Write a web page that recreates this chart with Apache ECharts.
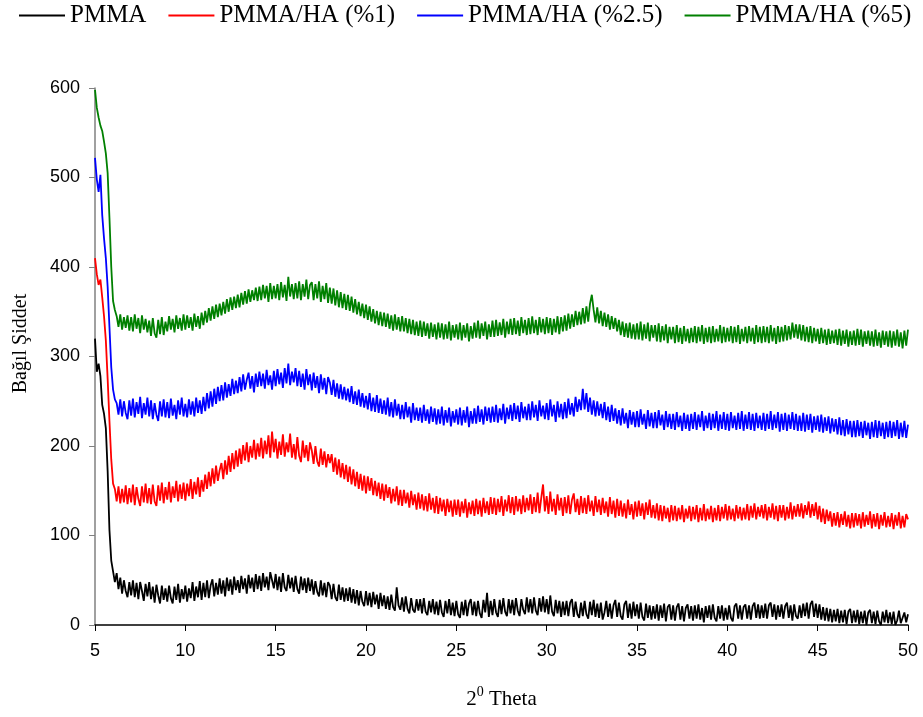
<!DOCTYPE html>
<html>
<head>
<meta charset="utf-8">
<script src="https://cdn.jsdelivr.net/npm/echarts@6/dist/echarts.min.js"></script>
<style>
  html, body { margin: 0; padding: 0; background: #ffffff; }
  #chart { width: 923px; height: 717px; }
</style>
</head>
<body>
<div id="chart"></div>
<script>
// XRD scans, 2θ from 5° to 50° in 0.1° steps
const seriesNames = ['PMMA', 'PMMA/HA (%1)', 'PMMA/HA (%2.5)', 'PMMA/HA (%5)'];
const seriesColors = ['#000000', '#ff0000', '#0000ff', '#008000'];
const thetaStart = 5;
const thetaStep = 0.1;
const xTickValues = [5, 10, 15, 20, 25, 30, 35, 40, 45, 50];
const yTickValues = [0, 100, 200, 300, 400, 500, 600];

const pmma = [
  320, 283, 292, 278, 246, 236, 220, 172, 106, 72,
  60, 48, 58, 40, 53, 35, 50, 38, 31, 48,
  33, 50, 31, 47, 29, 48, 38, 27, 46, 32,
  48, 29, 43, 25, 45, 33, 24, 44, 28, 41,
  26, 44, 30, 24, 43, 28, 46, 25, 40, 29,
  44, 26, 41, 30, 48, 27, 43, 31, 49, 28,
  47, 31, 50, 30, 44, 51, 32, 47, 34, 52,
  35, 50, 32, 53, 38, 51, 34, 54, 39, 50,
  36, 55, 40, 52, 35, 56, 41, 53, 37, 57,
  40, 55, 38, 58, 42, 54, 39, 59, 61, 41,
  57, 39, 54, 37, 58, 42, 38, 56, 41, 53,
  37, 55, 40, 35, 54, 39, 52, 36, 53, 38,
  51, 34, 49, 37, 32, 50, 33, 47, 31, 48,
  44, 29, 46, 31, 27, 45, 28, 42, 26, 41,
  27, 42, 25, 40, 24, 39, 22, 38, 26, 21,
  38, 22, 36, 20, 37, 23, 34, 18, 36, 21,
  33, 18, 32, 17, 34, 20, 16, 42, 22, 17,
  31, 15, 32, 18, 13, 30, 17, 14, 29, 16,
  29, 13, 30, 15, 11, 27, 14, 29, 12, 26,
  11, 28, 14, 9, 27, 13, 29, 11, 25, 10,
  27, 12, 8, 26, 11, 28, 10, 24, 29, 11,
  26, 10, 27, 13, 8, 28, 14, 36, 9, 27,
  11, 29, 14, 9, 28, 12, 30, 15, 10, 29,
  13, 28, 11, 30, 16, 10, 29, 17, 12, 31,
  14, 29, 13, 31, 16, 11, 30, 15, 32, 14,
  29, 12, 33, 15, 10, 28, 13, 27, 9, 26,
  11, 27, 10, 25, 29, 9, 26, 12, 8, 25,
  10, 27, 12, 7, 26, 11, 28, 9, 24, 8,
  25, 6, 14, 27, 9, 24, 7, 22, 28, 9,
  25, 10, 6, 23, 27, 8, 24, 7, 26, 10,
  23, 7, 25, 9, 5, 24, 8, 22, 6, 21,
  7, 23, 5, 22, 8, 24, 4, 20, 23, 6,
  22, 5, 20, 24, 6, 21, 4, 19, 23, 7,
  21, 5, 22, 7, 23, 6, 19, 3, 21, 8,
  22, 6, 23, 8, 4, 21, 7, 22, 5, 19,
  6, 22, 8, 4, 21, 24, 7, 22, 6, 20,
  23, 7, 22, 6, 21, 25, 8, 23, 7, 22,
  8, 24, 7, 22, 25, 9, 23, 6, 22, 9,
  23, 7, 21, 25, 8, 22, 5, 23, 10, 7,
  22, 8, 24, 10, 25, 7, 23, 27, 9, 24,
  8, 23, 6, 20, 5, 19, 4, 18, 3, 17,
  4, 18, 2, 16, 3, 17, 1, 15, 18, 2,
  16, 3, 17, 1, 15, 2, 16, 0, 14, 17,
  2, 15, 1, 16, 4, 0, 15, 3, 17, 2,
  14, 1, 15, 0, 5, 16, 2, 1, 14, 3,
  12
];

const pmmaHa1 = [
  410, 392, 380, 386, 366, 345, 318, 275, 228, 185,
  158, 152, 138, 155, 136, 152, 137, 156, 135, 153,
  137, 157, 134, 154, 141, 133, 155, 137, 158, 136,
  153, 135, 157, 138, 133, 156, 139, 159, 136, 154,
  140, 160, 137, 155, 142, 161, 138, 157, 141, 159,
  139, 158, 144, 163, 141, 160, 146, 165, 143, 162,
  149, 168, 152, 171, 155, 175, 158, 178, 161, 173,
  181, 163, 184, 168, 189, 171, 192, 174, 195, 177,
  197, 180, 201, 184, 204, 182, 200, 187, 207, 185,
  203, 188, 209, 186, 206, 191, 212, 187, 216, 193,
  208, 186, 205, 190, 213, 188, 204, 193, 214, 187,
  202, 185, 210, 189, 182, 206, 187, 201, 183, 204,
  195, 180, 200, 183, 177, 197, 179, 194, 176, 191,
  181, 191, 171, 187, 168, 185, 165, 181, 163, 179,
  160, 177, 157, 174, 155, 171, 152, 169, 150, 167,
  147, 166, 150, 164, 145, 161, 144, 159, 141, 158,
  139, 157, 142, 154, 136, 152, 138, 155, 134, 151,
  133, 151, 136, 148, 131, 150, 134, 146, 129, 148,
  130, 146, 128, 144, 127, 147, 129, 142, 125, 144,
  124, 142, 127, 140, 122, 141, 126, 139, 121, 140,
  123, 140, 121, 138, 125, 141, 120, 137, 124, 139,
  122, 141, 124, 139, 121, 142, 125, 138, 123, 143,
  124, 142, 123, 141, 126, 144, 122, 140, 127, 145,
  125, 143, 123, 144, 127, 141, 124, 145, 126, 142,
  128, 146, 124, 143, 126, 148, 125, 142, 157, 127,
  144, 124, 149, 127, 141, 123, 146, 128, 142, 122,
  143, 125, 145, 124, 140, 147, 126, 141, 123, 144,
  125, 142, 124, 145, 127, 139, 122, 144, 126, 140,
  123, 142, 125, 138, 121, 143, 124, 139, 120, 141,
  122, 139, 121, 136, 119, 140, 123, 135, 118, 138,
  121, 139, 122, 136, 118, 137, 123, 140, 120, 134,
  119, 136, 117, 134, 116, 133, 119, 131, 115, 134,
  117, 133, 116, 131, 118, 134, 115, 130, 119, 133,
  116, 132, 118, 134, 115, 131, 117, 135, 116, 130,
  118, 133, 115, 131, 117, 134, 116, 132, 119, 135,
  117, 133, 118, 130, 116, 134, 119, 132, 117, 131,
  118, 135, 117, 133, 120, 136, 118, 132, 121, 134,
  119, 135, 117, 132, 120, 136, 118, 133, 116, 134,
  120, 134, 117, 132, 119, 137, 118, 133, 121, 135,
  121, 136, 119, 134, 123, 138, 120, 135, 122, 137,
  118, 133, 115, 130, 113, 129, 116, 127, 110, 125,
  111, 126, 109, 124, 112, 127, 110, 123, 108, 125,
  109, 125, 111, 124, 108, 126, 110, 123, 112, 127,
  108, 124, 110, 125, 107, 123, 111, 126, 109, 122,
  110, 125, 107, 123, 111, 126, 108, 122, 109, 124,
  118
];

const pmmaHa25 = [
  522, 498, 484, 503, 458, 432, 410, 378, 333, 288,
  263, 252, 248, 235, 252, 233, 250, 237, 230, 251,
  234, 253, 232, 249, 236, 255, 231, 248, 235, 254,
  233, 251, 230, 248, 235, 228, 250, 233, 252, 232,
  249, 231, 253, 234, 246, 230, 251, 235, 254, 233,
  247, 232, 252, 235, 250, 233, 254, 237, 251, 236,
  255, 239, 259, 242, 261, 244, 264, 247, 266, 250,
  268, 251, 271, 254, 269, 256, 275, 258, 273, 259,
  277, 261, 280, 263, 274, 282, 264, 278, 260, 281,
  266, 283, 267, 281, 264, 285, 268, 279, 263, 284,
  267, 286, 269, 282, 265, 287, 270, 292, 268, 283,
  271, 287, 267, 284, 266, 281, 263, 286, 268, 280,
  262, 282, 265, 278, 259, 280, 263, 276, 258, 277,
  271, 257, 274, 255, 270, 253, 269, 252, 266, 251,
  264, 249, 267, 247, 261, 246, 263, 244, 259, 243,
  256, 241, 259, 239, 254, 238, 257, 237, 253, 236,
  251, 235, 254, 233, 249, 232, 252, 234, 247, 230,
  246, 230, 249, 232, 244, 226, 248, 229, 243, 228,
  243, 226, 246, 228, 241, 225, 244, 227, 242, 224,
  241, 225, 244, 223, 240, 226, 243, 222, 239, 226,
  241, 224, 243, 223, 240, 226, 244, 221, 239, 225,
  242, 225, 245, 227, 241, 224, 244, 228, 243, 226,
  244, 227, 246, 226, 242, 229, 247, 225, 243, 230,
  246, 228, 248, 230, 245, 227, 249, 231, 244, 229,
  247, 229, 250, 232, 246, 228, 251, 233, 245, 230,
  248, 229, 252, 233, 246, 227, 250, 232, 247, 230,
  249, 231, 253, 235, 248, 233, 255, 238, 252, 240,
  264, 241, 259, 238, 254, 235, 251, 233, 250, 234,
  247, 231, 249, 229, 244, 227, 246, 228, 242, 225,
  240, 223, 242, 225, 237, 220, 240, 224, 238, 221,
  239, 221, 241, 224, 236, 219, 240, 222, 237, 220,
  238, 220, 240, 223, 235, 218, 239, 221, 236, 219,
  236, 218, 238, 221, 234, 217, 237, 219, 235, 217,
  236, 219, 238, 218, 235, 221, 239, 217, 234, 220,
  237, 218, 236, 220, 239, 217, 235, 219, 238, 218,
  236, 217, 238, 220, 234, 218, 237, 219, 239, 217,
  235, 219, 238, 218, 236, 217, 237, 220, 234, 218,
  237, 217, 236, 219, 239, 218, 235, 220, 238, 216,
  236, 218, 237, 217, 235, 219, 238, 218, 236, 217,
  234, 217, 237, 216, 235, 218, 236, 215, 233, 218,
  234, 216, 235, 215, 232, 217, 233, 214, 231, 216,
  230, 213, 232, 212, 229, 211, 230, 213, 228, 210,
  228, 210, 229, 211, 227, 209, 228, 212, 226, 208,
  227, 210, 229, 209, 228, 211, 226, 208, 227, 210,
  228, 209, 227, 211, 229, 208, 226, 210, 228, 209,
  224
];

const pmmaHa5 = [
  598, 578, 567, 558, 552, 540, 527, 505, 455, 400,
  362, 352, 345, 333, 347, 330, 344, 332, 346, 329,
  344, 328, 347, 331, 343, 326, 346, 330, 342, 327,
  340, 323, 343, 326, 321, 341, 325, 344, 324, 339,
  328, 345, 330, 342, 327, 346, 331, 343, 329, 347,
  330, 346, 332, 344, 329, 348, 333, 345, 331, 349,
  335, 351, 338, 354, 340, 356, 342, 358, 344, 359,
  346, 361, 348, 364, 350, 366, 352, 367, 354, 369,
  355, 371, 358, 373, 359, 375, 361, 374, 363, 377,
  362, 378, 363, 380, 365, 379, 361, 382, 364, 379,
  365, 381, 363, 383, 366, 380, 362, 389, 367, 381,
  364, 382, 365, 384, 363, 381, 367, 386, 364, 380,
  383, 363, 381, 365, 384, 361, 379, 364, 382, 360,
  377, 359, 376, 357, 374, 355, 372, 354, 370, 352,
  369, 351, 367, 349, 364, 347, 361, 345, 359, 343,
  358, 341, 356, 339, 353, 337, 351, 335, 350, 334,
  349, 333, 348, 331, 346, 329, 347, 330, 344, 328,
  345, 328, 343, 326, 342, 325, 341, 324, 339, 323,
  340, 322, 339, 323, 337, 320, 338, 322, 336, 319,
  338, 321, 337, 319, 336, 320, 339, 318, 335, 321,
  336, 319, 338, 318, 335, 321, 337, 317, 334, 320,
  338, 321, 340, 320, 337, 323, 339, 319, 336, 322,
  340, 322, 341, 323, 338, 324, 342, 321, 339, 325,
  342, 324, 343, 325, 340, 323, 344, 326, 341, 324,
  343, 325, 345, 326, 341, 324, 344, 327, 342, 325,
  344, 326, 343, 324, 342, 327, 345, 325, 344, 328,
  346, 329, 348, 331, 347, 333, 351, 335, 350, 336,
  354, 337, 356, 339, 359, 369, 352, 338, 355, 337,
  351, 334, 349, 333, 347, 330, 345, 331, 343, 328,
  341, 324, 339, 322, 337, 321, 338, 320, 336, 319,
  337, 319, 339, 318, 336, 320, 338, 317, 335, 321,
  335, 317, 337, 316, 334, 318, 336, 315, 333, 319,
  333, 315, 335, 316, 332, 314, 334, 317, 331, 315,
  332, 316, 334, 315, 333, 317, 335, 314, 332, 316,
  333, 315, 334, 316, 331, 317, 335, 315, 333, 316,
  332, 317, 334, 315, 333, 316, 335, 314, 331, 317,
  333, 315, 334, 317, 332, 314, 335, 316, 333, 315,
  334, 316, 333, 315, 335, 317, 332, 314, 334, 316,
  333, 317, 335, 318, 334, 319, 338, 321, 336, 320,
  336, 318, 335, 317, 333, 316, 334, 315, 332, 317,
  331, 314, 332, 315, 330, 313, 331, 314, 329, 315,
  330, 313, 331, 312, 329, 314, 330, 311, 328, 313,
  329, 312, 331, 313, 330, 311, 328, 314, 329, 312,
  328, 311, 330, 312, 327, 310, 329, 313, 328, 311,
  329, 310, 328, 312, 330, 311, 327, 309, 329, 312,
  330
];

const intensities = [pmma, pmmaHa1, pmmaHa25, pmmaHa5];

// 2θ positions of the scan points
const theta = pmma.map((_, i) => +(thetaStart + i * thetaStep).toFixed(1));

const serif = '"Liberation Serif", "Times New Roman", serif';
const sans = '"Liberation Sans", Arial, sans-serif';

const chart = echarts.init(document.getElementById('chart'), null, { renderer: 'canvas' });

chart.setOption({
  animation: false,
  backgroundColor: '#ffffff',
  grid: { left: 95, right: 15, top: 88, bottom: 92, containLabel: false },
  legend: {
    top: 3,
    left: 19,
    padding: 0,
    itemGap: 22,
    itemWidth: 46,
    itemHeight: 2,
    icon: 'rect',
    textStyle: { fontFamily: serif, fontSize: 25, color: '#000000' },
    data: seriesNames
  },
  xAxis: {
    type: 'value',
    min: xTickValues[0],
    max: xTickValues[xTickValues.length - 1],
    interval: xTickValues[1] - xTickValues[0],
    name: '{n|2}{s|0}{n| Theta}',
    nameLocation: 'middle',
    nameGap: 60,
    nameTextStyle: {
      rich: {
        n: { fontFamily: serif, fontSize: 21, color: '#000000', lineHeight: 25, verticalAlign: 'bottom' },
        s: { fontFamily: serif, fontSize: 14, color: '#000000', lineHeight: 25, verticalAlign: 'top' }
      }
    },
    axisLine: { show: true, lineStyle: { color: '#000000', width: 1.5 } },
    axisTick: { show: true, inside: false, length: 6, lineStyle: { color: '#000000', width: 1 } },
    axisLabel: { margin: 17, fontFamily: sans, fontSize: 18, color: '#000000' },
    splitLine: { show: false }
  },
  yAxis: {
    type: 'value',
    min: yTickValues[0],
    max: yTickValues[yTickValues.length - 1],
    interval: yTickValues[1] - yTickValues[0],
    name: 'Bağıl Şiddet',
    nameLocation: 'middle',
    nameGap: 64,
    nameRotate: 90,
    nameTextStyle: { fontFamily: serif, fontSize: 20, color: '#000000', padding: [0, 0, 0, 26] },
    axisLine: { show: true, lineStyle: { color: '#808080', width: 1.5 } },
    axisTick: { show: true, inside: false, length: 6, lineStyle: { color: '#808080', width: 1 } },
    axisLabel: { margin: 15, fontFamily: sans, fontSize: 18, color: '#000000' },
    splitLine: { show: false }
  },
  series: seriesNames.map((name, k) => ({
    name: name,
    type: 'line',
    showSymbol: false,
    symbol: 'none',
    silent: true,
    color: seriesColors[k],
    lineStyle: { color: seriesColors[k], width: 1.8 },
    data: theta.map((t, i) => [t, intensities[k][i]])
  }))
});
</script>
</body>
</html>
